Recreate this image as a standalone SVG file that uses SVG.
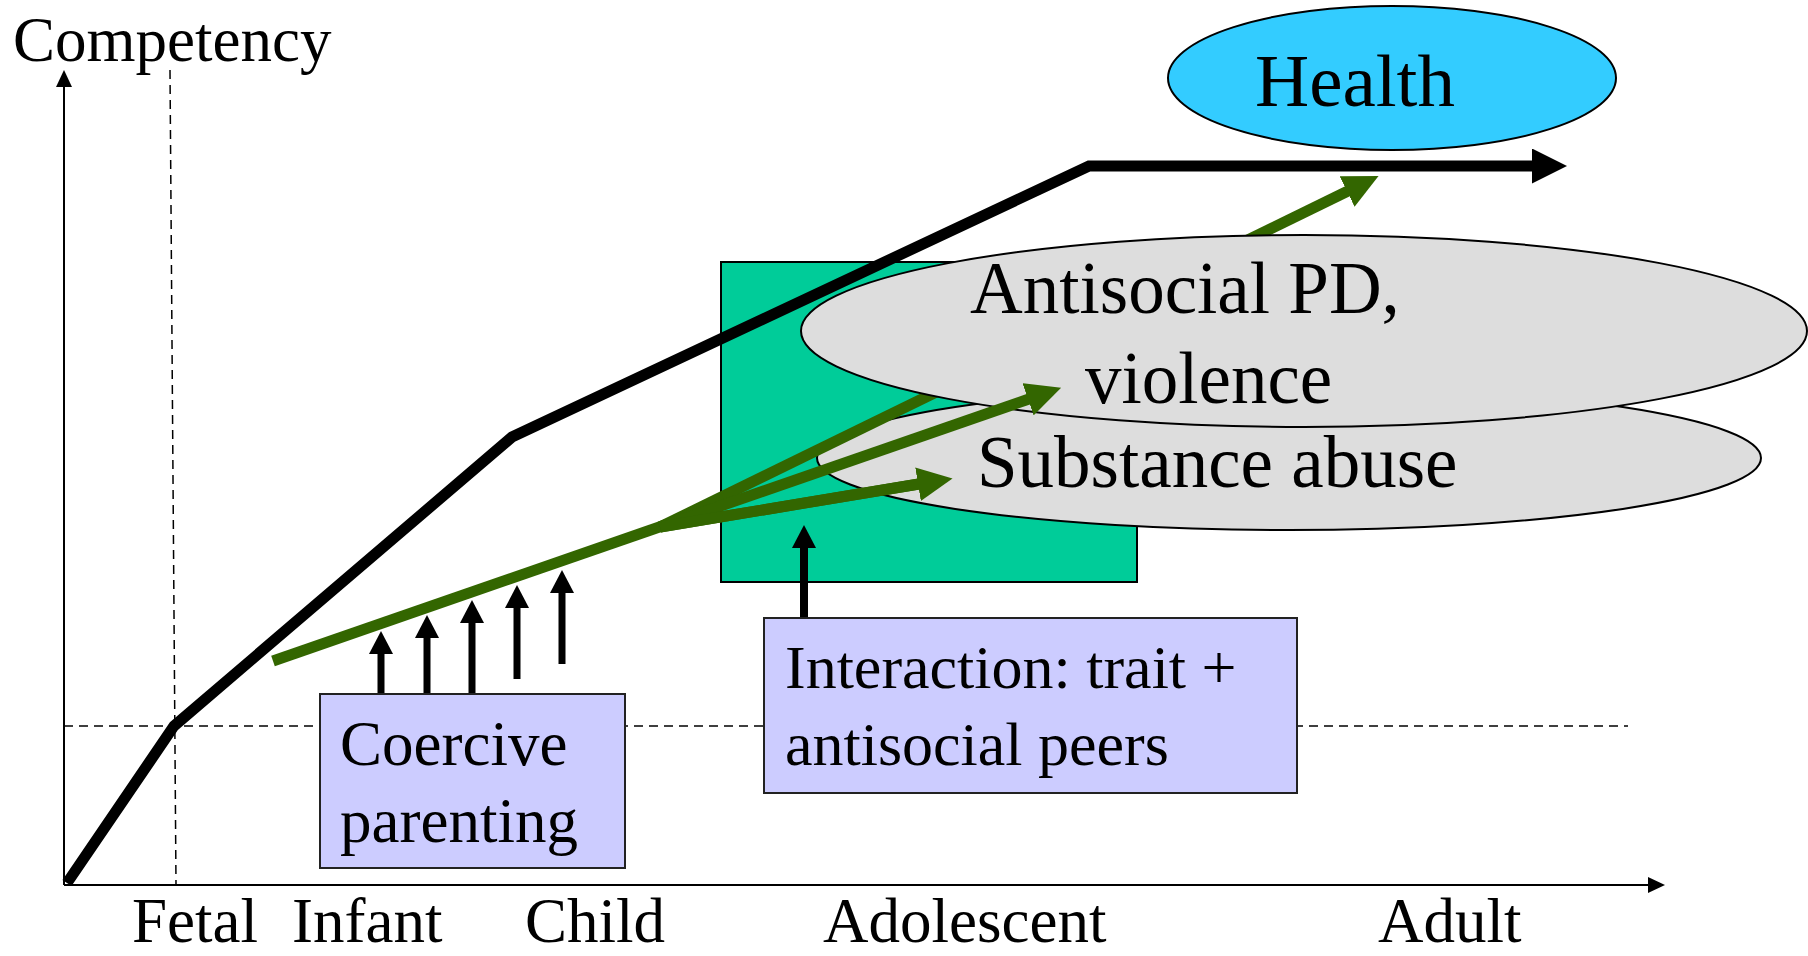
<svg xmlns="http://www.w3.org/2000/svg" width="1808" height="956" viewBox="0 0 1808 956">
<style>
text{font-family:"Liberation Serif","Times New Roman",serif;fill:#000}
.lbl{font-size:63px}
.axis{stroke:#000;stroke-width:2;fill:none}
.dash{stroke:#000;stroke-width:1.5;stroke-dasharray:9 6;fill:none}
.green{stroke:#336600;stroke-width:11;fill:none}
.blk{stroke:#000;stroke-width:7;fill:none}
.box{fill:#CCCCFF;stroke:#222;stroke-width:2}
.ell{fill:#DDDDDD;stroke:#000;stroke-width:2}
</style>
<defs>
<marker id="axArrow" markerUnits="userSpaceOnUse" markerWidth="17" markerHeight="16" viewBox="0 0 17 16" refX="1" refY="8" orient="auto"><path d="M0,0 L17,8 L0,16 z" fill="#000"/></marker>
<marker id="bigArrow" markerUnits="userSpaceOnUse" markerWidth="35" markerHeight="35" viewBox="0 0 35 35" refX="1" refY="17.5" orient="auto"><path d="M0,0 L35,17.5 L0,35 z" fill="#000"/></marker>
<marker id="gArrow" markerUnits="userSpaceOnUse" markerWidth="35" markerHeight="34" viewBox="0 0 35 34" refX="1" refY="17" orient="auto"><path d="M0,0 L35,17 L0,34 z" fill="#336600"/></marker>
<marker id="sArrow" markerUnits="userSpaceOnUse" markerWidth="23" markerHeight="24" viewBox="0 0 23 24" refX="1" refY="12" orient="auto"><path d="M0,0 L23,12 L0,24 z" fill="#000"/></marker>
</defs>

<g id="axes">
<line class="axis" x1="64" y1="885" x2="64" y2="86" marker-end="url(#axArrow)"/>
<line class="axis" x1="64" y1="885" x2="1649" y2="885" marker-end="url(#axArrow)"/>
<line class="dash" x1="170" y1="70" x2="176" y2="885"/>
<line class="dash" x1="64" y1="726" x2="1628" y2="726"/>
<text class="lbl" x="13" y="61">Competency</text>
<text class="lbl" x="132" y="942">Fetal</text>
<text class="lbl" x="292" y="942">Infant</text>
<text class="lbl" x="525" y="942">Child</text>
<text class="lbl" x="823" y="942">Adolescent</text>
<text class="lbl" x="1378" y="942">Adult</text>
</g>

<g id="adolescent-zone">
<rect x="721" y="262" width="416" height="320" fill="#00CC99" stroke="#000" stroke-width="2"/>
</g>

<g id="health">
<ellipse cx="1392" cy="78" rx="224" ry="72" fill="#33CCFF" stroke="#000" stroke-width="2"/>
<text x="1255" y="106" font-size="75">Health</text>
</g>

<g id="substance-abuse">
<ellipse class="ell" cx="1289" cy="458" rx="472" ry="72"/>
</g>

<g id="connectors-under">
<line class="green" x1="273" y1="661" x2="668" y2="524"/>
<line class="green" x1="660" y1="527" x2="1348" y2="191" marker-end="url(#gArrow)"/>
<line class="green" x1="660" y1="527" x2="919" y2="484"/>
</g>

<g id="trajectory">
<path d="M67,883 L174,726 L512,437 L1089,166 L1533,166" fill="none" stroke="#000" stroke-width="11" stroke-linejoin="miter" marker-end="url(#bigArrow)"/>
</g>

<g id="antisocial-pd">
<ellipse class="ell" cx="1304" cy="331" rx="503" ry="96"/>
<text x="970" y="313" font-size="73">Antisocial PD,</text>
<text x="1085" y="403" font-size="73">violence</text>
</g>

<g id="substance-label">
<text x="977" y="487" font-size="73">Substance abuse</text>
</g>

<g id="connectors">
<line class="green" x1="660" y1="527" x2="1029" y2="399" marker-end="url(#gArrow)"/>
<line class="green" x1="660" y1="527" x2="919" y2="484" marker-end="url(#gArrow)"/>
<line class="blk" x1="381" y1="694" x2="381" y2="653" marker-end="url(#sArrow)"/>
<line class="blk" x1="427" y1="694" x2="427" y2="637" marker-end="url(#sArrow)"/>
<line class="blk" x1="472" y1="694" x2="472" y2="622" marker-end="url(#sArrow)"/>
<line class="blk" x1="517" y1="679" x2="517" y2="607" marker-end="url(#sArrow)"/>
<line class="blk" x1="562" y1="664" x2="562" y2="592" marker-end="url(#sArrow)"/>
<line x1="804" y1="618" x2="804" y2="547" stroke="#000" stroke-width="8" marker-end="url(#sArrow)"/>
</g>

<g id="coercive-parenting">
<rect class="box" x="320" y="694" width="305" height="174"/>
<text class="lbl" x="340" y="765">Coercive</text>
<text class="lbl" x="340" y="842">parenting</text>
</g>

<g id="interaction">
<rect class="box" x="764" y="618" width="533" height="175"/>
<text x="785" y="688" font-size="62">Interaction: trait +</text>
<text x="785" y="765" font-size="62">antisocial peers</text>
</g>
</svg>
